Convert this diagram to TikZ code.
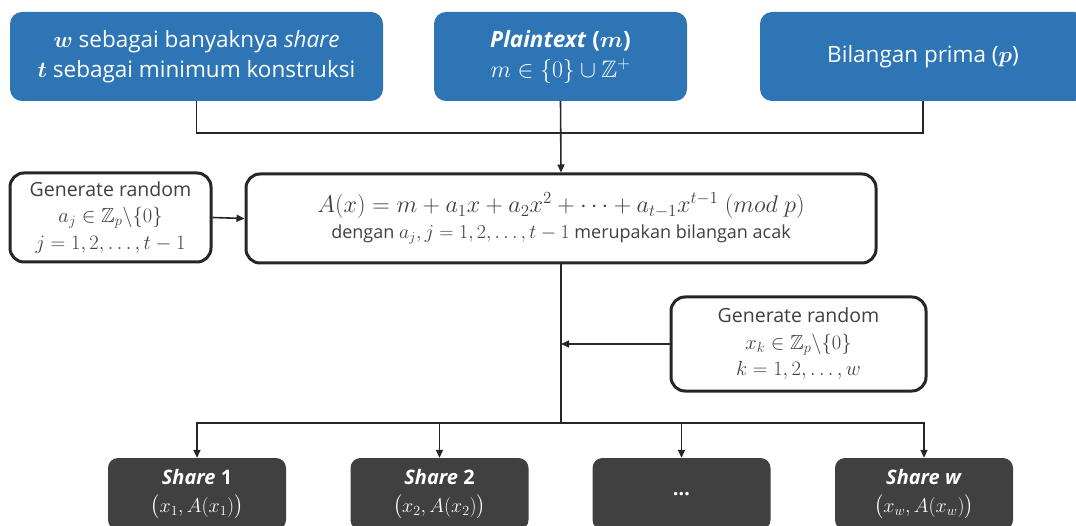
\RequirePackage{fix-cm}
\documentclass[tikz,border=0pt]{standalone}
\usepackage{amsmath,amssymb,bm,graphicx}
\usepackage{fontspec}
\setmainfont{Open Sans}
\usetikzlibrary{arrows.meta}

\definecolor{topblue}{HTML}{2E75B6}
\definecolor{sharegray}{HTML}{404040}
\definecolor{ink}{HTML}{404040}
\definecolor{frame}{HTML}{262626}

% math set a little larger than the surrounding sans text
\newcommand\mth[2][1.1]{\scalebox{#1}{$#2$}}

\tikzset{
  inputbox/.style={fill=topblue, text=white, rounded corners=12pt, inner sep=0pt,
    align=center, font=\fontsize{22.5}{30}\selectfont},
  procbox/.style={draw=frame, line width=3pt, fill=white, text=ink, rounded corners=14pt,
    inner sep=0pt, align=center},
  smalltext/.style={font=\fontsize{19.5}{26.5}\selectfont},
  sharebox/.style={fill=sharegray, text=white, rounded corners=10pt, inner sep=0pt,
    align=center, minimum width=178pt, minimum height=72pt,
    font=\fontsize{20}{28}\selectfont},
  wire/.style={draw=frame, line width=1.6pt},
  feed/.style={wire, -{Triangle[length=8pt,width=7pt]}},
}

\begin{document}
\begin{tikzpicture}[x=1pt, y=-1pt]
\useasboundingbox (0,0) rectangle (1076,526);
\clip (0,0) rectangle (1076,526);

% input parameters
\node[inputbox, minimum width=373pt, minimum height=89pt] (b1) at (196.5,56.5)
  {$\bm{w}$ sebagai banyaknya \textit{share}\\ $\bm{t}$ sebagai minimum konstruksi};
\node[inputbox, minimum width=253pt, minimum height=89pt] (b2) at (560.5,56.5)
  {\textbf{\textit{Plaintext} (}$\bm{m}$\textbf{)}\\ \mth[1.06]{m \in \{0\} \cup \mathbb{Z}^{+}}};
\node[inputbox, minimum width=326pt, minimum height=89pt] (b3) at (923,56.5)
  {Bilangan prima ($\bm{p}$)};

% polynomial construction
\node[procbox, minimum width=630pt, minimum height=89pt,
  font=\fontsize{18}{26}\selectfont] (main) at (561,218.5)
  {{\fontsize{22}{26}\selectfont \mth{A(x) = m + a_1x + a_2x^2 + \cdots + a_{t-1}x^{t-1}\ (mod\ p)}}\\
   dengan \mth{a_j, j = 1,2,\ldots,t-1} merupakan bilangan acak};
\node[procbox, smalltext, minimum width=201pt, minimum height=89pt] (left) at (110.5,217.5)
  {Generate random\\ \mth[1.05]{a_j \in \mathbb{Z}_p\backslash\{0\}}\\ \mth[1.05]{j = 1,2,\ldots,t-1}};
\node[procbox, smalltext, minimum width=255pt, minimum height=94pt] (right) at (798.5,344)
  {Generate random\\ \mth[1.05]{x_k \in \mathbb{Z}_p\backslash\{0\}}\\ \mth[1.05]{k = 1,2,\ldots,w}};

% shares
\node[sharebox] (s1) at (197,494)   {\textbf{\textit{Share} 1}\\ $\big(x_1, A(x_1)\big)$};
\node[sharebox] (s2) at (439.5,494) {\textbf{\textit{Share} 2}\\ $\big(x_2, A(x_2)\big)$};
\node[sharebox] (s3) at (681.5,494) {\textbf{…}};
\node[sharebox] (s4) at (924,494)   {\textbf{\textit{Share w}}\\ $\big(x_w, A(x_w)\big)$};

% junctions
\coordinate (jt) at (561,133);
\coordinate (jb) at (561,423);

% connectors
\draw[wire] (b1.south) |- (jt) -| (b3.south);
\draw[feed] (b2.south) -- (main.north);
\draw[feed] (left.east) -- (main.west);
\draw[wire] (main.south) -- (jb);
\draw[feed] (right.west) -- (main.south |- right.west);
\foreach \s in {s1,s2,s3,s4}
  \draw[feed] (jb) -| (\s.north);
\end{tikzpicture}
\end{document}
